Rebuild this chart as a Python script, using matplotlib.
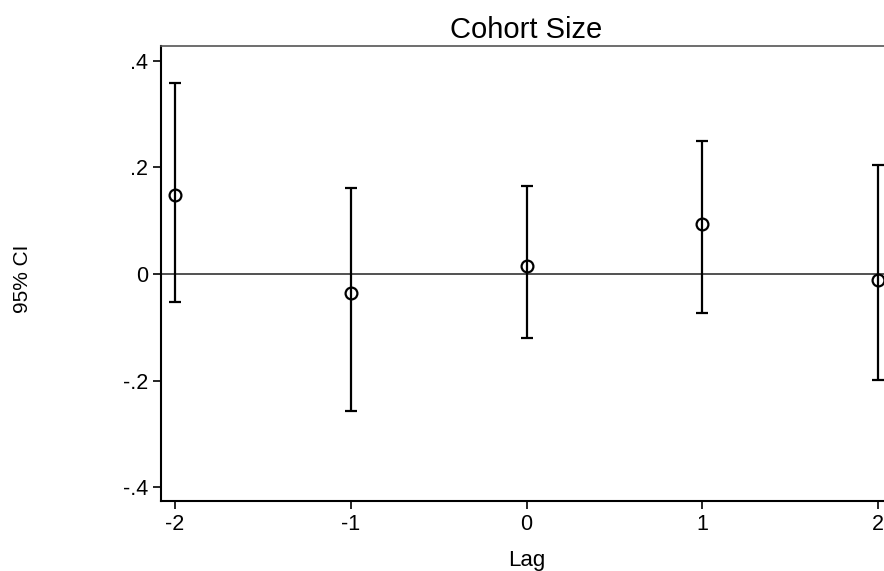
import matplotlib
matplotlib.use("Agg")
import matplotlib.pyplot as plt

plt.rcParams['font.family'] = ['Liberation Sans', 'DejaVu Sans']

lags = [-2, -1, 0, 1, 2]
coef = [0.148, -0.036, 0.015, 0.094, -0.011]
ci_low = [-0.053, -0.257, -0.120, -0.073, -0.199]
ci_high = [0.359, 0.161, 0.165, 0.250, 0.205]
yticks = [-0.4, -0.2, 0, 0.2, 0.4]
ytick_labels = ['-.4', '-.2', '0', '.2', '.4']

fig = plt.figure(figsize=(8.84, 5.71), dpi=100)
ax = fig.add_axes([161 / 884, 1 - 501 / 571, (892 - 161) / 884, (501 - 46) / 571])

err_lo = [c - l for c, l in zip(coef, ci_low)]
err_hi = [h - c for c, h in zip(coef, ci_high)]
ax.errorbar(lags, coef, yerr=[err_lo, err_hi], fmt='none', ecolor='black',
            elinewidth=1.6, capsize=4.5, capthick=1.6)
ax.plot(lags, coef, 'o', markerfacecolor='none', markeredgecolor='black',
        markersize=8.5, markeredgewidth=1.6)
ax.axhline(0, color='#333333', linewidth=1.2, zorder=0)

ax.set_xlim(-2.08, 2.08)
ax.set_ylim(-0.426, 0.428)
ax.set_xticks(lags)
ax.set_xticklabels([str(l) for l in lags])
ax.set_yticks(yticks)
ax.set_yticklabels(ytick_labels)
ax.tick_params(axis='both', direction='out', length=6, width=1.2, labelsize=15.5, pad=3)

for side in ['left', 'bottom']:
    ax.spines[side].set_linewidth(1.5)
    ax.spines[side].set_color('black')
ax.spines['top'].set_color('#555555')
ax.spines['top'].set_linewidth(1.2)
ax.spines['right'].set_visible(False)

ax.set_title('Cohort Size', fontsize=21, pad=6)
ax.set_xlabel('Lag', fontsize=16, labelpad=11)
fig.text(22 / 884, 1 - 279 / 571, '95% CI', rotation=90, fontsize=15,
         ha='center', va='center')

fig.savefig('out.png', dpi=100)
